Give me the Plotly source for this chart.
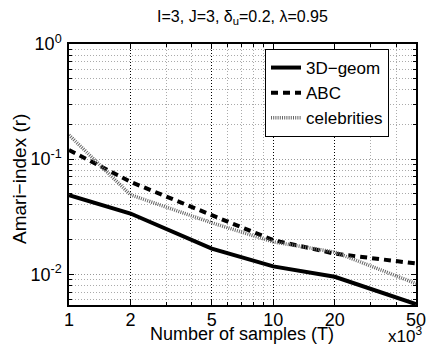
import plotly.graph_objects as go

T = [1, 2, 5, 10, 20, 50]
geom3d = [0.0486, 0.0337, 0.0167, 0.0117, 0.0095, 0.0055]
abc = [0.120, 0.0635, 0.0326, 0.0198, 0.0151, 0.0124]
celebrities = [0.162, 0.049, 0.028, 0.0191, 0.0156, 0.0083]

x_ticks = [1, 2, 5, 10, 20, 50]
x_minor = [3, 4, 6, 7, 8, 9, 30, 40]
y_ticks = [0.01, 0.1, 1]
y_ticktext = ["10<sup>-2</sup>", "10<sup>-1</sup>", "10<sup>0</sup>"]
y_minor = [k * 10 ** e for e in (-3, -2, -1) for k in range(2, 10)]

FONT = "Liberation Sans, Arial, sans-serif"

fig = go.Figure()
fig.add_trace(go.Scatter(x=T, y=geom3d, mode="lines", name="3D\u2212geom",
                         line=dict(color="black", width=4)))
fig.add_trace(go.Scatter(x=T, y=abc, mode="lines", name="ABC",
                         line=dict(color="black", width=4, dash="7px,5px")))
fig.add_trace(go.Scatter(x=T, y=celebrities, mode="lines", name="celebrities",
                         line=dict(color="#666666", width=3.5, dash="1px,1.2px")))

fig.update_layout(
    width=428, height=347,
    margin=dict(l=69, r=12, t=44, b=42, autoexpand=False),
    paper_bgcolor="white", plot_bgcolor="white",
    font=dict(family=FONT, size=18, color="black"),
    title=dict(text="I=3, J=3, \u03b4<sub>u</sub>=0.2, \u03bb=0.95",
               x=0.5, xref="paper", xanchor="center",
               y=1 - 16 / 347, yref="container", yanchor="middle",
               font=dict(size=16, family=FONT, color="black")),
    showlegend=True,
    legend=dict(x=(265 - 69) / 347, y=(305 - 49) / 261, xanchor="left", yanchor="top",
                bgcolor="white", bordercolor="black", borderwidth=1,
                font=dict(size=17, family=FONT), tracegroupgap=0, itemwidth=30),
)

fig.update_xaxes(
    type="log", range=[0, 1.69897], automargin=False,
    tickmode="array", tickvals=x_ticks, ticktext=[str(v) for v in x_ticks],
    ticks="inside", ticklen=5, tickcolor="black", mirror="ticks",
    showline=True, linecolor="black", linewidth=1.5,
    showgrid=True, gridcolor="black", griddash="1px,2px", gridwidth=1,
    minor=dict(tickvals=x_minor, showgrid=True, gridcolor="#aaaaaa",
               griddash="1px,2px", ticks="inside", ticklen=3, tickcolor="black"),
    zeroline=False, ticklabelstandoff=-2,
    tickfont=dict(size=18, family=FONT),
)
fig.update_yaxes(
    type="log", range=[-2.267, 0], automargin=False,
    tickmode="array", tickvals=y_ticks, ticktext=y_ticktext,
    ticks="inside", ticklen=5, tickcolor="black", mirror="ticks",
    showline=True, linecolor="black", linewidth=1.5,
    showgrid=True, gridcolor="#999999", griddash="1px,2px", gridwidth=1,
    minor=dict(tickvals=y_minor, showgrid=True, gridcolor="#aaaaaa",
               griddash="1px,2px", ticks="inside", ticklen=3, tickcolor="black"),
    zeroline=False, ticklabelstandoff=2,
    tickfont=dict(size=18, family=FONT),
)

fig.add_annotation(text="Number of samples (T)",
                   xref="paper", yref="paper", x=(242 - 69) / 347, y=(305 - 334) / 261,
                   xanchor="center", yanchor="middle", showarrow=False,
                   font=dict(size=18, family=FONT))
fig.add_annotation(text="Amari\u2212index (r)", textangle=-90,
                   xref="paper", yref="paper", x=(20 - 69) / 347, y=(305 - 179) / 261,
                   xanchor="center", yanchor="middle", showarrow=False,
                   font=dict(size=19, family=FONT))
fig.add_annotation(text="x10<sup>3</sup>", xref="paper", yref="paper",
                   x=(386 - 69) / 347, y=(305 - 335) / 261,
                   xanchor="left", yanchor="middle", showarrow=False,
                   font=dict(size=17, family=FONT))

fig.write_html("out.html", config={"displayModeBar": False},
               post_script="document.body.style.margin='0px';document.body.style.overflow='hidden';")
